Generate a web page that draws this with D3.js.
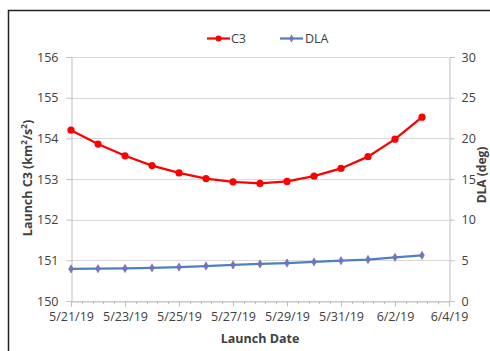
<!DOCTYPE html>
<html><head><meta charset="utf-8">
<script src="https://cdn.jsdelivr.net/npm/d3@7"></script>
<style>
html,body{margin:0;padding:0;background:#fff;overflow:hidden}
text{font-family:"Open Sans","Liberation Sans",sans-serif;fill:#404040}
</style></head>
<body>
<svg id="chart" width="490" height="351"></svg>
<script>
const dates = ["2019-05-21","2019-05-22","2019-05-23","2019-05-24","2019-05-25","2019-05-26","2019-05-27","2019-05-28","2019-05-29","2019-05-30","2019-05-31","2019-06-01","2019-06-02","2019-06-03"];
const c3 = [154.20,153.86,153.57,153.33,153.15,153.01,152.93,152.89,152.94,153.07,153.26,153.55,153.98,154.52];
const dla = [3.94,3.97,4.00,4.08,4.17,4.30,4.43,4.55,4.67,4.80,4.96,5.10,5.37,5.62];
const xTickLabels = ["5/21/19","5/23/19","5/25/19","5/27/19","5/29/19","5/31/19","6/2/19","6/4/19"];
const leftTicks = [150,151,152,153,154,155,156];
const rightTicks = [0,5,10,15,20,25,30];
const seriesNames = ["C3","DLA"];

const svg = d3.select("#chart");
const L = 71, R = 449, T = 57, B = 301;
const parse = d3.utcParse("%Y-%m-%d");
const x = d3.scaleUtc().domain([parse("2019-05-21"), parse("2019-06-04")]).range([L, R]);
const yL = d3.scaleLinear().domain([150,156]).range([B, T]);
const yR = d3.scaleLinear().domain([0,30]).range([B, T]);

// frame
svg.append("rect").attr("x",8.5).attr("y",10.5).attr("width",500).attr("height",400)
  .attr("fill","none").attr("stroke","#222").attr("stroke-width",1.5);

// gridlines
svg.append("g").selectAll("line").data(leftTicks).join("line")
  .attr("x1",L).attr("x2",R).attr("y1",d=>Math.round(yL(d))+0.5).attr("y2",d=>Math.round(yL(d))+0.5)
  .attr("stroke","#d9d9d9").attr("stroke-width",1);

// left axis
const gL = svg.append("g").attr("transform",`translate(${L+0.5},0)`)
  .call(d3.axisLeft(yL).tickValues(leftTicks).tickFormat(d3.format("d")).tickSize(5).tickPadding(8));
gL.select(".domain").attr("stroke","#bfbfbf");
gL.selectAll(".tick line").attr("stroke","#bfbfbf");
gL.selectAll("text").attr("font-size",12.5).attr("fill","#404040").attr("font-family","'Open Sans',sans-serif");

// right axis
const gR = svg.append("g").attr("transform",`translate(${R+0.5},0)`)
  .call(d3.axisRight(yR).tickValues(rightTicks).tickFormat(d3.format("d")).tickSize(5).tickPadding(7));
gR.select(".domain").attr("stroke","#bfbfbf");
gR.selectAll(".tick line").attr("stroke","#bfbfbf");
gR.selectAll("text").attr("font-size",12.5).attr("fill","#404040").attr("font-family","'Open Sans',sans-serif");

// bottom axis
const majorTicks = xTickLabels.map(s => { const p = s.split("/"); return new Date(Date.UTC(2000+ +p[2], +p[0]-1, +p[1])); });
const gB = svg.append("g").attr("transform",`translate(0,${B+0.5})`)
  .call(d3.axisBottom(x).tickValues(majorTicks).tickFormat((d,i)=>xTickLabels[i]).tickSize(5).tickPadding(6));
gB.select(".domain").attr("stroke","#bfbfbf");
gB.selectAll(".tick line").attr("stroke","#bfbfbf");
gB.selectAll("text").attr("font-size",12.5).attr("fill","#404040").attr("font-family","'Open Sans',sans-serif");
// minor ticks (every 0.4 day)
const minor = d3.range(0, 35).map(i => new Date(x.domain()[0].getTime() + i*0.4*86400000));
svg.append("g").selectAll("line").data(minor).join("line")
  .attr("x1",d=>Math.round(x(d))+0.5).attr("x2",d=>Math.round(x(d))+0.5)
  .attr("y1",B).attr("y2",B+3).attr("stroke","#bfbfbf");

// lines
const pts = dates.map(parse);
const lineC3 = d3.line().x((d,i)=>x(pts[i])).y(d=>yL(d));
const lineDLA = d3.line().x((d,i)=>x(pts[i])).y(d=>yR(d));
svg.append("path").datum(dla).attr("d",lineDLA).attr("fill","none").attr("stroke","#4f81bd").attr("stroke-width",2.25);
svg.append("g").selectAll("path").data(dla).join("path")
  .attr("d",d3.symbol(d3.symbolDiamond,20)())
  .attr("transform",(d,i)=>`translate(${x(pts[i])},${yR(d)})`)
  .attr("fill","#7a6fc0").attr("stroke","#6a6ab8").attr("stroke-width",0.5);
svg.append("path").datum(c3).attr("d",lineC3).attr("fill","none").attr("stroke","#ff0000").attr("stroke-width",2.25);
svg.append("g").selectAll("circle").data(c3).join("circle")
  .attr("cx",(d,i)=>x(pts[i])).attr("cy",d=>yL(d)).attr("r",3.6).attr("fill","#ff0000");

// legend
const lg = svg.append("g");
lg.append("line").attr("x1",207).attr("x2",230).attr("y1",38.5).attr("y2",38.5).attr("stroke","#ff0000").attr("stroke-width",2.25);
lg.append("circle").attr("cx",218.5).attr("cy",38.5).attr("r",3).attr("fill","#ff0000");
lg.append("text").attr("x",231).attr("y",43).attr("font-size",12.5).text(seriesNames[0]);
lg.append("line").attr("x1",280).attr("x2",303).attr("y1",38.5).attr("y2",38.5).attr("stroke","#4f81bd").attr("stroke-width",2.25);
lg.append("path").attr("d",d3.symbol(d3.symbolDiamond,18)()).attr("transform","translate(291.5,38.5)").attr("fill","#7a6fc0");
lg.append("text").attr("x",305).attr("y",43).attr("font-size",12.5).text(seriesNames[1]);

// axis titles
const ttl = svg.append("text").attr("transform","translate(32,178) rotate(-90)").attr("text-anchor","middle")
  .attr("font-size",12.5).attr("font-weight","bold");
ttl.append("tspan").text("Launch C3 (km");
ttl.append("tspan").attr("font-size",8).attr("dy",-5).text("2");
ttl.append("tspan").attr("dy",5).text("/s");
ttl.append("tspan").attr("font-size",8).attr("dy",-5).text("2");
ttl.append("tspan").attr("dy",5).text(")");
svg.append("text").attr("transform","translate(485.5,175) rotate(-90)").attr("text-anchor","middle")
  .attr("font-size",12).attr("font-weight","bold").text("DLA (deg)");
svg.append("text").attr("x",260).attr("y",343).attr("text-anchor","middle")
  .attr("font-size",12.5).attr("font-weight","bold").text("Launch Date");
</script>
</body></html>
